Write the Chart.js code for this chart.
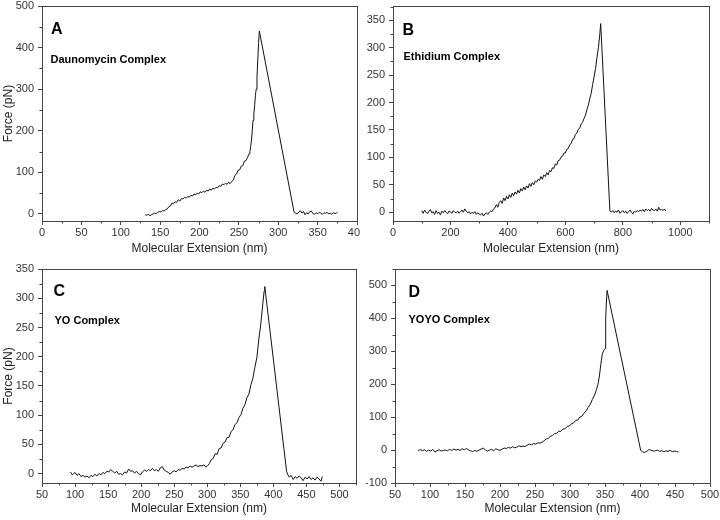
<!DOCTYPE html>
<html><head><meta charset="utf-8">
<script src="https://cdn.jsdelivr.net/npm/chart.js@4"></script>
<style>
html,body{margin:0;padding:0;background:#fff;}
#wrap{position:relative;width:720px;height:520px;background:#fff;overflow:hidden;}
canvas{position:absolute;}
</style></head><body>
<div id="wrap">
<canvas id="cA" width="360" height="260" style="left:0;top:0"></canvas>
<canvas id="cB" width="360" height="260" style="left:360px;top:0"></canvas>
<canvas id="cC" width="360" height="260" style="left:0;top:260px"></canvas>
<canvas id="cD" width="360" height="260" style="left:360px;top:260px"></canvas>
</div>
<script>
// ---- data: [extension (nm), force (pN)] ----
const daunomycin = [[131,-2],[133,-3],[135,-1],[137,-4],[139,-2],[141,0],[143,2],[145,1],[147,4],[149,6],[151,5],[153,8],[155,7],[157,10],[159,12],[161,17],[163,19],[165,26],[167,25],[169,29],[171,28],[173,34],[175,31],[177,37],[179,36],[181,40],[183,38],[185,42],[187,40],[189,45],[191,43],[193,48],[195,46],[197,50],[199,48],[201,53],[203,51],[205,55],[207,52],[209,57],[211,55],[213,60],[215,57],[217,62],[219,60],[221,64],[223,63],[225,68],[227,66],[229,72],[231,70],[233,74],[235,71],[237,76],[239,73],[241,78],[243,82],[245,93],[247,96],[249,105],[251,106],[253,115],[255,116],[257,127],[259,128],[261,136],[263,145],[264,150],[265,162],[266,178],[267,200],[268,225],[269,240],[270,260],[271,285],[272,300],[273,330],[274,370],[275,410],[276,440],[320,5],[322,2],[324,0],[326,4],[328,8],[330,2],[332,6],[334,-2],[336,3],[338,0],[340,5],[342,7],[344,1],[346,-1],[348,3],[350,0],[352,4],[354,2],[356,-1],[358,3],[360,1],[362,4],[364,0],[366,2],[368,-1],[370,3],[372,1],[374,2],[375,4]];

const ethidium = [[100,3],[105,-2],[110,4],[115,0],[120,-3],[125,2],[130,5],[135,-1],[140,1],[145,-4],[150,3],[155,-2],[160,0],[165,-5],[170,2],[175,-1],[180,3],[185,0],[190,-3],[195,2],[200,1],[205,-2],[210,3],[215,0],[220,-1],[225,2],[230,-2],[235,1],[240,4],[245,0],[250,6],[255,2],[260,-1],[265,1],[270,-3],[275,0],[280,-2],[285,1],[290,-4],[295,-1],[300,-3],[305,-5],[310,-2],[315,-7],[320,-3],[325,-1],[330,-4],[335,0],[340,2],[345,1],[350,6],[355,8],[360,14],[365,9],[370,18],[375,21],[380,16],[385,26],[390,21],[395,29],[400,24],[405,32],[410,27],[415,35],[420,30],[425,37],[430,33],[435,40],[440,35],[445,43],[450,39],[455,46],[460,41],[465,48],[470,44],[475,52],[480,47],[485,54],[490,50],[495,57],[500,55],[505,60],[510,58],[515,65],[520,60],[525,68],[530,65],[535,72],[540,68],[545,76],[550,74],[555,81],[560,80],[565,88],[570,86],[575,94],[580,95],[585,101],[590,102],[595,108],[600,108],[605,115],[610,116],[615,123],[620,125],[625,133],[630,134],[635,142],[640,144],[645,151],[650,153],[655,161],[660,164],[665,171],[670,177],[675,187],[680,195],[685,207],[690,217],[695,233],[700,247],[705,262],[710,282],[715,300],[720,325],[723,344],[755,2],[760,0],[765,3],[770,-1],[775,2],[780,0],[785,4],[790,-2],[795,1],[800,3],[805,-1],[810,2],[815,-2],[820,1],[825,4],[830,0],[835,-3],[840,2],[845,0],[850,3],[855,1],[860,4],[865,2],[870,5],[875,1],[880,6],[885,3],[890,5],[895,2],[900,7],[905,4],[910,3],[915,6],[920,2],[925,9],[930,4],[935,5],[940,3],[945,6],[950,2]];

const yoComplex = [[93,3],[96,-2],[100,2],[103,-3],[106,0],[109,-5],[112,-3],[115,-6],[118,-4],[121,-7],[124,-3],[127,-5],[130,-1],[133,-4],[136,0],[139,-2],[142,2],[145,0],[148,4],[151,3],[154,7],[157,4],[160,1],[163,4],[166,-1],[169,0],[172,-2],[175,3],[178,1],[181,8],[184,4],[187,5],[190,1],[193,4],[196,0],[199,-2],[202,3],[205,6],[208,4],[211,7],[214,5],[217,9],[220,5],[223,7],[226,4],[229,10],[232,12],[235,6],[238,4],[241,2],[244,-1],[247,3],[250,5],[253,3],[256,7],[259,6],[262,9],[265,8],[268,11],[271,10],[274,13],[277,11],[280,13],[283,15],[286,12],[289,14],[292,13],[295,15],[298,11],[300,13],[303,17],[306,24],[309,26],[312,34],[315,33],[318,43],[321,44],[324,52],[327,54],[330,62],[333,62],[336,72],[339,75],[342,84],[345,87],[348,96],[351,101],[354,112],[357,118],[360,130],[363,136],[366,152],[369,163],[372,182],[375,198],[378,230],[381,256],[384,290],[386,312],[387,320],[420,4],[422,-2],[424,-6],[427,-3],[430,-10],[433,-5],[436,-8],[439,-4],[442,-7],[445,-12],[448,-6],[451,-9],[454,-5],[457,-10],[460,-7],[463,-11],[466,-6],[469,-9],[472,-13],[474,-5]];

const yoyoComplex = [[83,-3],[86,2],[89,-2],[92,1],[95,-4],[98,0],[101,-3],[104,2],[107,-6],[110,-2],[113,1],[116,-3],[119,-1],[122,0],[125,-2],[128,2],[131,-1],[134,3],[137,0],[140,2],[143,-1],[146,4],[149,1],[152,5],[155,0],[158,-2],[161,-5],[164,-1],[167,-4],[170,0],[173,3],[176,6],[179,1],[182,-3],[185,0],[188,2],[191,-2],[194,4],[197,1],[200,-1],[203,3],[206,6],[209,5],[212,8],[215,6],[218,10],[221,7],[224,9],[227,13],[230,10],[233,12],[236,11],[239,15],[242,18],[245,16],[248,20],[251,18],[254,22],[257,21],[260,24],[263,28],[266,34],[269,35],[272,42],[275,44],[278,50],[281,51],[284,57],[287,57],[290,64],[293,65],[296,72],[299,73],[302,80],[305,82],[308,90],[311,91],[314,100],[317,103],[320,112],[323,119],[326,130],[329,139],[332,154],[335,167],[338,185],[340,200],[342,225],[344,260],[346,290],[348,302],[350,308],[351,400],[352,450],[353,485],[401,-1],[404,-6],[407,-7],[410,-3],[413,2],[416,-1],[419,-3],[422,-2],[425,0],[428,-4],[431,-2],[434,-5],[437,-2],[440,-4],[443,-1],[446,-5],[449,-3],[452,-4],[455,-6]];

const panelLetters = ['A','B','C','D'];
const panelNames = ['Daunomycin Complex','Ethidium Complex','YO Complex','YOYO Complex'];
const xTitle = 'Molecular Extension (nm)';
const yTitle = 'Force (pN)';

Chart.defaults.font.family = "'Liberation Sans', Arial, Helvetica, sans-serif";
const AXIS = '#444', TXT = '#333';

const deco = {
  id: 'panelDeco',
  afterDraw(chart, args, o) {
    const ctx = chart.ctx, a = chart.chartArea;
    ctx.save();
    ctx.strokeStyle = AXIS; ctx.lineWidth = 1;
    ctx.strokeRect(Math.round(a.left)+0.5, Math.round(a.top)+0.5, Math.round(a.right-a.left), Math.round(a.bottom-a.top));
    // minor ticks
    const drawMinor = (scale, step, major, horiz) => {
      const start = Math.ceil(scale.min/step)*step;
      ctx.beginPath();
      for (let v = start; v <= scale.max + 1e-9; v += step) {
        const r = v/major;
        if (Math.abs(r - Math.round(r)) < 1e-6) continue;
        const p = Math.round(scale.getPixelForValue(v)) + 0.5;
        if (horiz) { ctx.moveTo(p, a.bottom); ctx.lineTo(p, a.bottom + 2.5); }
        else { ctx.moveTo(a.left, p); ctx.lineTo(a.left - 2.5, p); }
      }
      ctx.stroke();
    };
    drawMinor(chart.scales.x, o.minorX, o.majorX, true);
    drawMinor(chart.scales.y, o.minorY, o.majorY, false);
    // labels
    ctx.fillStyle = '#000';
    ctx.textBaseline = 'alphabetic'; ctx.textAlign = 'left';
    ctx.font = "bold 16px 'Liberation Sans', Arial, sans-serif";
    ctx.fillText(o.letter, a.left + o.lx, a.top + o.ly);
    ctx.font = "bold 11px 'Liberation Sans', Arial, sans-serif";
    ctx.fillText(o.name, a.left + o.nx, a.top + o.ny);
    ctx.restore();
  }
};

function makeChart(id, pts, c) {
  return new Chart(document.getElementById(id), {
    type: 'scatter',
    data: { datasets: [{ data: pts.map(p => ({x: p[0], y: p[1]})), showLine: true,
      borderColor: '#111', borderWidth: 1, pointRadius: 0, tension: 0, fill: false }] },
    options: {
      responsive: false, animation: false, devicePixelRatio: 1,
      layout: { padding: { top: c.padTop, right: c.padRight, left: 0, bottom: 0 } },
      plugins: {
        legend: { display: false }, tooltip: { enabled: false },
        panelDeco: { letter: c.letter, name: c.name, lx: c.lx, ly: c.ly, nx: c.nx, ny: c.ny,
          minorX: c.xStep/2, majorX: c.xStep, minorY: c.yStep/2, majorY: c.yStep }
      },
      scales: {
        x: {
          type: 'linear', min: c.xMin, max: c.xMax,
          ticks: { stepSize: c.xStep, includeBounds: false, autoSkip: false, maxRotation: 0,
            padding: 1, color: TXT, font: { size: 11 }, callback: v => String(v) },
          grid: { drawOnChartArea: false, tickLength: 4, color: AXIS },
          border: { color: AXIS },
          title: { display: true, text: xTitle, color: '#222', font: { size: 12 }, padding: { top: 0, bottom: 4.5 } },
          afterFit(s) { s.height = c.xH; s.paddingLeft = 0; s.paddingRight = 0; }
        },
        y: {
          type: 'linear', min: c.yMin, max: c.yMax,
          ticks: { stepSize: c.yStep, includeBounds: false, autoSkip: false,
            padding: 4, color: TXT, font: { size: 11 }, callback: v => String(v) },
          grid: { drawOnChartArea: false, tickLength: 4, color: AXIS },
          border: { color: AXIS },
          title: { display: c.yTitle, text: yTitle, color: '#222', font: { size: 12 }, padding: { top: 1, bottom: 0 } },
          afterFit(s) { s.width = c.yW; s.paddingTop = 0; s.paddingBottom = 0; }
        }
      }
    },
    plugins: [deco]
  });
}

makeChart('cA', daunomycin, { letter: panelLetters[0], name: panelNames[0],
  xMin: 0, xMax: 400, xStep: 50, yMin: -17, yMax: 500, yStep: 100,
  padTop: 6, padRight: 3, xH: 39, yW: 42, yTitle: true, lx: 9, ly: 28, nx: 8.5, ny: 57 });
makeChart('cB', ethidium, { letter: panelLetters[1], name: panelNames[1],
  xMin: 0, xMax: 1100, xStep: 200, yMin: -16, yMax: 376, yStep: 50,
  padTop: 6, padRight: 11, xH: 39, yW: 33, yTitle: false, lx: 9.5, ly: 29, nx: 10.5, ny: 54 });
makeChart('cC', yoComplex, { letter: panelLetters[2], name: panelNames[2],
  xMin: 50, xMax: 525, xStep: 50, yMin: -16, yMax: 350, yStep: 50,
  padTop: 9, padRight: 4, xH: 37, yW: 42, yTitle: true, lx: 11.5, ly: 27, nx: 12.5, ny: 55 });
makeChart('cD', yoyoComplex, { letter: panelLetters[3], name: panelNames[3],
  xMin: 50, xMax: 500, xStep: 50, yMin: -100, yMax: 550, yStep: 100,
  padTop: 9, padRight: 10, xH: 37, yW: 35, yTitle: false, lx: 13.5, ly: 28, nx: 13.5, ny: 54 });
</script>
</body></html>
